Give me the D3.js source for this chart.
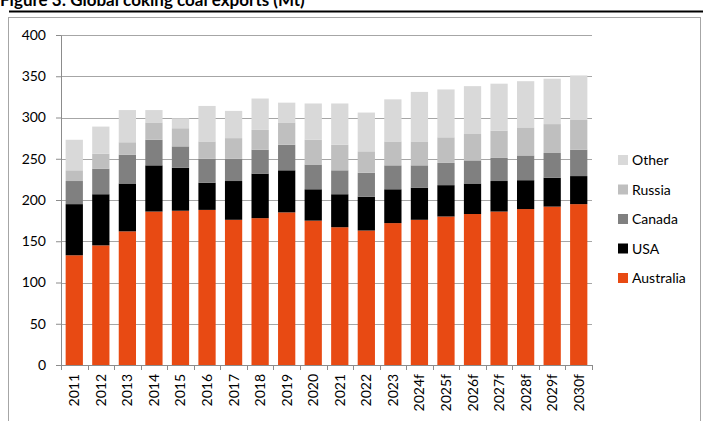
<!DOCTYPE html>
<html>
<head>
<meta charset="utf-8">
<script src="https://cdn.jsdelivr.net/npm/d3@7"></script>
<style>
  body { margin: 0; background: #fff; }
  svg { display: block; font-family: Lato, "Open Sans", sans-serif; }
</style>
</head>
<body>
<div id="graph-container"></div>
<script>
// Data (Mt)
var years = ["2011", "2012", "2013", "2014", "2015", "2016", "2017", "2018", "2019", "2020",
  "2021", "2022", "2023", "2024f", "2025f", "2026f", "2027f", "2028f", "2029f", "2030f"];
var australia = [133, 145, 162, 186, 187, 188, 176, 178, 185, 175, 167, 163, 172, 176, 180, 183, 186, 189, 192, 195];
var usa = [62, 62, 58, 56, 52, 33, 47, 54, 51, 38, 40, 41, 41, 39, 38, 37, 37, 35, 35, 34];
var canada = [28, 31, 35, 31, 26, 29, 27, 29, 31, 30, 29, 29, 29, 27, 27, 28, 28, 30, 30, 32];
var russia = [13, 18, 15, 21, 22, 21, 25, 24, 27, 30, 31, 26, 29, 29, 31, 32, 33, 34, 35, 36];
var other = [37, 33, 39, 15, 12, 43, 33, 38, 24, 44, 50, 47, 51, 60, 58, 58, 57, 56, 55, 54];
var seriesNames = ["Australia", "USA", "Canada", "Russia", "Other"];
var seriesColors = ["#e84a13", "#000000", "#808080", "#bfbfbf", "#d9d9d9"];
var yTicks = [0, 50, 100, 150, 200, 250, 300, 350, 400];

var svgWidth = 703;
var svgHeight = 421;

var svg = d3.select("#graph-container")
  .append("svg")
  .attr("width", svgWidth)
  .attr("height", svgHeight);

// Title (cut off at the top in the original)
svg.append("text")
  .attr("x", 0)
  .attr("y", 6)
  .style("font-size", "17px")
  .style("font-weight", "bold")
  .text("Figure 3: Global coking coal exports (Mt)");

// Thick rule under the title
svg.append("line")
  .attr("x1", 9).attr("x2", svgWidth)
  .attr("y1", 11.5).attr("y2", 11.5)
  .attr("stroke", "#000")
  .attr("stroke-width", 2);

// Chart frame
svg.append("rect")
  .attr("x", 8.5).attr("y", 17.5)
  .attr("width", 692).attr("height", 420)
  .attr("fill", "none")
  .attr("stroke", "#a6a6a6");

var margin = { top: 35, left: 61, right: 111, bottom: 56 };
var chartWidth = svgWidth - margin.left - margin.right;
var chartHeight = svgHeight - margin.top - margin.bottom;

var chart = svg.append("g")
  .attr("transform", "translate(" + margin.left + "," + margin.top + ")");

var xScale = d3.scaleBand()
  .domain(years)
  .range([0, chartWidth])
  .paddingInner(0.35)
  .paddingOuter(0.175);

var yScale = d3.scaleLinear()
  .domain([0, 400])
  .range([chartHeight, 0]);

// Gridlines + y axis
var yAxis = d3.axisLeft(yScale)
  .tickValues(yTicks)
  .tickSizeInner(5)
  .tickSizeOuter(0)
  .tickPadding(10);

chart.append("g")
  .selectAll("line")
  .data(yTicks.filter(function (d) { return d > 0; }))
  .enter().append("line")
  .attr("x1", 0).attr("x2", chartWidth)
  .attr("y1", function (d) { return Math.round(yScale(d)) + 0.5; })
  .attr("y2", function (d) { return Math.round(yScale(d)) + 0.5; })
  .attr("stroke", "#a6a6a6");

var yg = chart.append("g").call(yAxis);
yg.select(".domain").attr("stroke", "#8c8c8c");
yg.selectAll(".tick line").attr("stroke", "#8c8c8c");
yg.selectAll("text")
  .style("font-size", "14px")
  .style("font-family", "Lato, sans-serif")
  .attr("fill", "#000");

// Stacked bars
var rows = years.map(function (y, i) {
  return { year: y, Australia: australia[i], USA: usa[i], Canada: canada[i], Russia: russia[i], Other: other[i] };
});
var stacked = d3.stack().keys(seriesNames)(rows);

chart.append("g")
  .selectAll("g")
  .data(stacked)
  .enter().append("g")
  .attr("fill", function (d, i) { return seriesColors[i]; })
  .selectAll("rect")
  .data(function (d) { return d; })
  .enter().append("rect")
  .attr("x", function (d) { return xScale(d.data.year); })
  .attr("y", function (d) { return yScale(d[1]); })
  .attr("width", xScale.bandwidth())
  .attr("height", function (d) { return yScale(d[0]) - yScale(d[1]); });

// x axis with ticks between categories
chart.append("line")
  .attr("x1", 0).attr("x2", chartWidth)
  .attr("y1", chartHeight + 0.5).attr("y2", chartHeight + 0.5)
  .attr("stroke", "#8c8c8c");

chart.append("g")
  .selectAll("line")
  .data(d3.range(years.length + 1))
  .enter().append("line")
  .attr("x1", function (i) { return Math.round(i * xScale.step()) + 0.5; })
  .attr("x2", function (i) { return Math.round(i * xScale.step()) + 0.5; })
  .attr("y1", chartHeight)
  .attr("y2", chartHeight + 5)
  .attr("stroke", "#8c8c8c");

chart.append("g")
  .selectAll("text")
  .data(years)
  .enter().append("text")
  .attr("transform", function (d) {
    return "translate(" + (xScale(d) + xScale.bandwidth() / 2 + 5) + "," + (chartHeight + 9) + ") rotate(-90)";
  })
  .attr("text-anchor", "end")
  .style("font-size", "14px")
  .text(function (d) { return d; });

// Legend (top-down: Other ... Australia)
var legend = svg.append("g")
  .attr("transform", "translate(618,155)");

var legendItems = seriesNames.slice().reverse();
var legendColors = seriesColors.slice().reverse();

legend.selectAll("rect")
  .data(legendItems)
  .enter().append("rect")
  .attr("x", 0)
  .attr("y", function (d, i) { return i * 29.5; })
  .attr("width", 10)
  .attr("height", 10)
  .attr("fill", function (d, i) { return legendColors[i]; });

legend.selectAll("text")
  .data(legendItems)
  .enter().append("text")
  .attr("x", 14)
  .attr("y", function (d, i) { return i * 29.5 + 10; })
  .style("font-size", "14px")
  .text(function (d) { return d; });
</script>
</body>
</html>
